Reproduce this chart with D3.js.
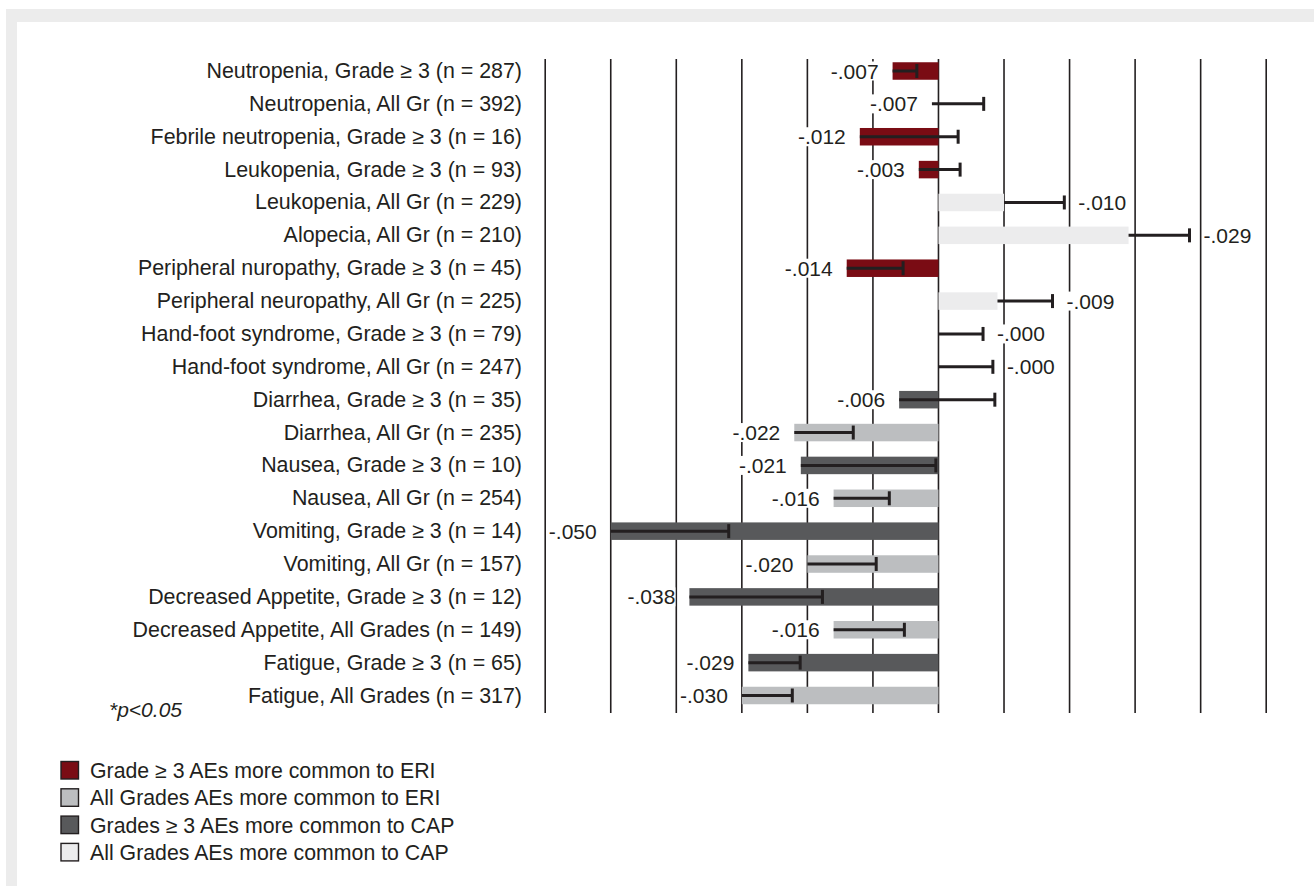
<!DOCTYPE html>
<html>
<head>
<meta charset="utf-8">
<script src="https://cdn.jsdelivr.net/npm/d3@7"></script>
<style>
  html, body { margin: 0; padding: 0; background: #fff; }
  svg { display: block; }
  text { font-family: "Liberation Sans", Arial, Helvetica, sans-serif; fill: #231f20; }
</style>
</head>
<body>
<svg id="chart" width="1314" height="886"></svg>
<script>
// Adverse events: risk difference per event, with interval line and value label
const categories = [
  "Neutropenia, Grade \u2265 3 (n = 287)",
  "Neutropenia, All Gr (n = 392)",
  "Febrile neutropenia, Grade \u2265 3 (n = 16)",
  "Leukopenia, Grade \u2265 3 (n = 93)",
  "Leukopenia, All Gr (n = 229)",
  "Alopecia, All Gr (n = 210)",
  "Peripheral nuropathy, Grade \u2265 3 (n = 45)",
  "Peripheral neuropathy, All Gr (n = 225)",
  "Hand-foot syndrome, Grade \u2265 3 (n = 79)",
  "Hand-foot syndrome, All Gr (n = 247)",
  "Diarrhea, Grade \u2265 3 (n = 35)",
  "Diarrhea, All Gr (n = 235)",
  "Nausea, Grade \u2265 3 (n = 10)",
  "Nausea, All Gr (n = 254)",
  "Vomiting, Grade \u2265 3 (n = 14)",
  "Vomiting, All Gr (n = 157)",
  "Decreased Appetite, Grade \u2265 3 (n = 12)",
  "Decreased Appetite, All Grades (n = 149)",
  "Fatigue, Grade \u2265 3 (n = 65)",
  "Fatigue, All Grades (n = 317)"
];

// bar group of each row
const groups = [
  "eriG3", "eriAll", "eriG3", "eriG3", "capAll", "capAll", "eriG3", "capAll", "capAll", "capAll",
  "capG3", "eriAll", "capG3", "eriAll", "capG3", "eriAll", "capG3", "eriAll", "capG3", "eriAll"
];

// bar ends (0 = no bar drawn)
const values = [
  -0.007, 0, -0.012, -0.003, 0.010, 0.029, -0.014, 0.009, 0, 0,
  -0.006, -0.022, -0.021, -0.016, -0.050, -0.020, -0.038, -0.016, -0.029, -0.030
];

// interval line: from ciLow to ciHigh, capped at ciHigh
const ciLow = [
  -0.007, -0.001, -0.012, -0.003, 0.010, 0.029, -0.014, 0.009, 0, 0,
  -0.006, -0.022, -0.021, -0.016, -0.050, -0.020, -0.038, -0.016, -0.029, -0.030
];
const ciHigh = [
  -0.0033, 0.0069, 0.0030, 0.0033, 0.0192, 0.0383, -0.0054, 0.0174, 0.0068, 0.0083,
  0.0086, -0.0130, -0.0004, -0.0075, -0.0320, -0.0095, -0.0177, -0.0052, -0.0211, -0.0223
];

const valueLabels = [
  "-.007", "-.007", "-.012", "-.003", "-.010", "-.029", "-.014", "-.009", "-.000", "-.000",
  "-.006", "-.022", "-.021", "-.016", "-.050", "-.020", "-.038", "-.016", "-.029", "-.030"
];

const legendKeys = ["eriG3", "eriAll", "capG3", "capAll"];
const legendLabels = [
  "Grade \u2265 3 AEs more common to ERI",
  "All Grades AEs more common to ERI",
  "Grades \u2265 3 AEs more common to CAP",
  "All Grades AEs more common to CAP"
];
const footnote = "*p<0.05";

const colors = {
  eriG3: "#7a0c14",
  eriAll: "#bcbec0",
  capG3: "#58595b",
  capAll: "#ececed"
};
const ink = "#231f20";

const rows = categories.map((c, i) => ({
  category: c, group: groups[i], value: values[i],
  lo: ciLow[i], hi: ciHigh[i], label: valueLabels[i]
}));

const svg = d3.select("#chart");

// page frame
svg.append("rect").attr("x", 6).attr("y", 9).attr("width", 1320).attr("height", 890).attr("fill", "#ececec");
svg.append("rect").attr("x", 17).attr("y", 22).attr("width", 1310).attr("height", 880).attr("fill", "#ffffff");

const x = d3.scaleLinear().domain([-0.06, 0.05]).range([545.2, 1266.2]);
const y = d3.scalePoint().domain(categories).range([71, 695.5]);
const barH = 17.5;
const gridTop = 59, gridBottom = 713;

// vertical grid lines
svg.append("g").selectAll("line")
  .data(x.ticks(11))
  .join("line")
  .attr("x1", d => x(d)).attr("x2", d => x(d))
  .attr("y1", gridTop).attr("y2", gridBottom)
  .attr("stroke", ink).attr("stroke-width", 1.6);

// bars
svg.append("g").selectAll("rect")
  .data(rows.filter(d => d.value !== 0))
  .join("rect")
  .attr("x", d => x(Math.min(0, d.value)))
  .attr("width", d => Math.abs(x(d.value) - x(0)))
  .attr("y", d => y(d.category) - barH / 2)
  .attr("height", barH)
  .attr("fill", d => colors[d.group]);

// interval lines with end caps
const ci = svg.append("g");
ci.selectAll("line.ci")
  .data(rows)
  .join("line")
  .attr("class", "ci")
  .attr("x1", d => x(d.lo)).attr("x2", d => x(d.hi))
  .attr("y1", d => y(d.category)).attr("y2", d => y(d.category))
  .attr("stroke", ink).attr("stroke-width", 3);
ci.selectAll("line.cap")
  .data(rows)
  .join("line")
  .attr("class", "cap")
  .attr("x1", d => x(d.hi)).attr("x2", d => x(d.hi))
  .attr("y1", d => y(d.category) - 7).attr("y2", d => y(d.category) + 7)
  .attr("stroke", ink).attr("stroke-width", 3);

// value labels on white boxes
const gap = 14;
const lab = svg.append("g").selectAll("g")
  .data(rows)
  .join("g");
lab.append("text")
  .attr("x", d => d.lo < 0 ? x(d.lo) - gap : x(d.hi) + gap)
  .attr("y", d => y(d.category) + 7.5)
  .attr("text-anchor", d => d.lo < 0 ? "end" : "start")
  .attr("font-size", 21)
  .text(d => d.label);
lab.each(function () {
  const g = d3.select(this);
  const b = g.select("text").node().getBBox();
  g.insert("rect", "text")
    .attr("x", b.x).attr("y", b.y + 2)
    .attr("width", b.width).attr("height", b.height - 4)
    .attr("fill", "#ffffff");
});

// category labels
svg.append("g").selectAll("text")
  .data(categories)
  .join("text")
  .attr("x", 522)
  .attr("y", d => y(d) + 7)
  .attr("text-anchor", "end")
  .attr("font-size", 21.4)
  .text(d => d);

// footnote
svg.append("text")
  .attr("x", 109).attr("y", 717)
  .attr("font-size", 21)
  .attr("font-style", "italic")
  .text(footnote);

// legend
const leg = svg.append("g").selectAll("g")
  .data(legendKeys)
  .join("g")
  .attr("transform", (d, i) => `translate(61, ${761.5 + i * 27.3})`);
leg.append("rect")
  .attr("width", 17.5).attr("height", 17.5)
  .attr("fill", d => colors[d])
  .attr("stroke", ink).attr("stroke-width", 1.4);
leg.append("text")
  .attr("x", 29).attr("y", 16.5)
  .attr("font-size", 21.3)
  .text((d, i) => legendLabels[i]);
</script>
</body>
</html>
